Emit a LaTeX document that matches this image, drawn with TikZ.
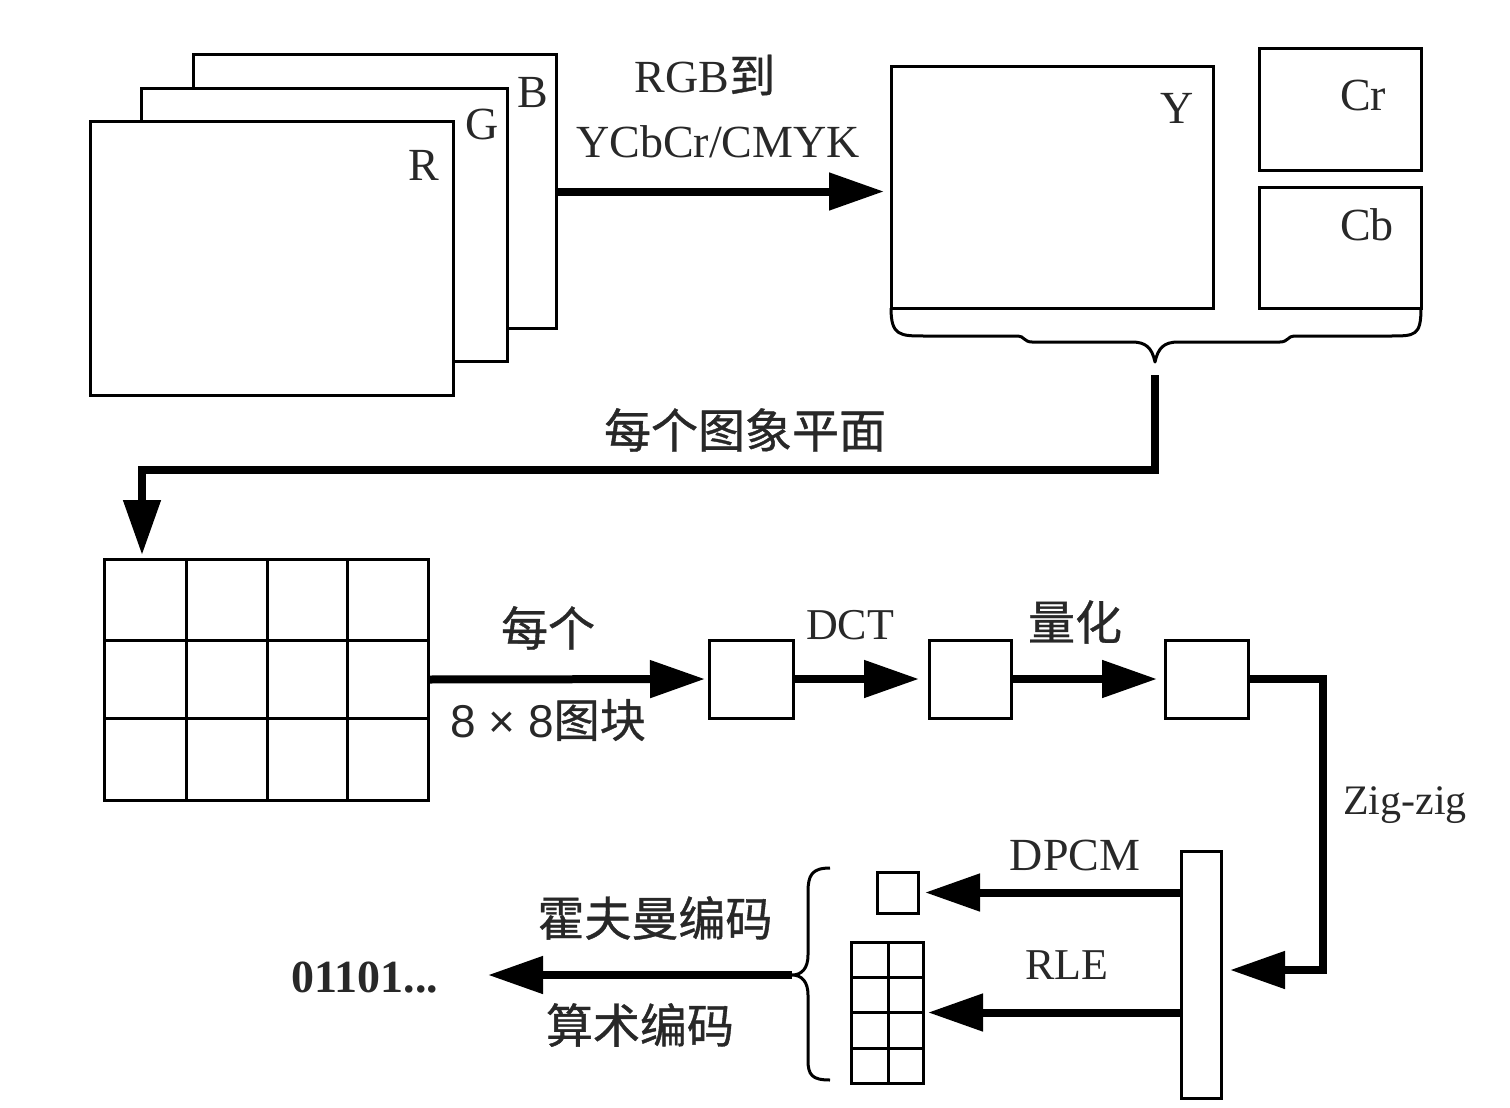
\documentclass[tikz,border=0pt]{standalone}
\usepackage{fontspec}
\setmainfont{Liberation Serif}
\setsansfont{Liberation Sans}
\newfontfamily\cjk[FakeBold=0.8]{Noto Sans CJK SC}
\usetikzlibrary{arrows.meta}
\definecolor{ink}{RGB}{40,40,40}
\tikzset{
  box/.style={draw=black, line width=3pt, fill=white, inner sep=0pt, outer sep=0pt},
  arr/.style={line width=8pt, line join=miter, -{Triangle[length=55pt,width=36pt]}},
  thin/.style={line width=3pt},
  lab/.style={text=ink, inner sep=0pt, font=\fontsize{46}{50}\selectfont},
  slab/.style={text=ink, inner sep=0pt, font=\fontsize{44}{50}\selectfont},
  clab/.style={text=ink, inner sep=0pt, font=\cjk\fontsize{47}{52}\selectfont},
}
\begin{document}
\begin{tikzpicture}[x=1pt,y=-1pt]
\useasboundingbox (0,0) rectangle (1510,1108);
% RGB planes
\node[box, minimum width=363pt, minimum height=273pt] (B) at (374.5,191.5) {};
\node[box, minimum width=366pt, minimum height=273pt] (G) at (324,224.5) {};
\node[box, minimum width=363pt, minimum height=274pt] (R) at (271.5,258) {};
\node[lab] (lB) at (533,93) {B};
\node[lab] (lG) at (482,124) {G};
\node[lab] (lR) at (424,165) {R};
% YCbCr planes
\node[box, minimum width=322pt, minimum height=241pt] (Y) at (1052,187.5) {};
\node[box, minimum width=162pt, minimum height=121pt] (Cr) at (1340,109.5) {};
\node[box, minimum width=162pt, minimum height=121pt] (Cb) at (1340,247.5) {};
\node[lab] (lY) at (1177,108) {Y};
\node[lab] (lCr) at (1363,95) {Cr};
\node[lab] (lCb) at (1367,225) {Cb};
% conversion arrow
\draw[arr, shorten >=7pt] (B.east) -- (B.east -| Y.west);
\node[lab] (t1) at (705,75) {RGB{\cjk 到}};
\node[lab] (t2) at (718,142) {YCbCr/CMYK};
% brace under Y, Cr, Cb
\coordinate (bL) at (891,308);
\coordinate (bR) at (1421,308);
\coordinate (bt) at (1155,362);
\draw[thin, line join=round] (bL) .. controls (891,336) and (900,336) .. (925,336)
  -- (1018,336) .. controls (1024,336) and (1024,342) .. (1032,342)
  -- (1132,342) .. controls (1146,342) and (1152,348) .. (bt)
  .. controls (1158,348) and (1164,342) .. (1178,342)
  -- (1280,342) .. controls (1288,342) and (1288,336) .. (1294,336)
  -- (1390,336) .. controls (1415,336) and (1421,336) .. (bR);
% every plane -> grid
\coordinate (ls) at (1155,375);
\node[box, minimum width=324pt, minimum height=241pt] (grid) at (266,679.5) {};
\foreach \x in {186,267,347} \draw[thin] (\x,559) -- (\x,800);
\foreach \y in {640,718} \draw[thin] (104,\y) -- (428,\y);
\coordinate (gin) at (142,555);
\draw[arr] (ls) -- (1155,470) -| (gin);
\node[clab] (t3) at (745,430) {每个图象平面};
% blocks
\node[box, minimum width=84pt, minimum height=78pt] (b1) at (751,679) {};
\node[box, minimum width=82pt, minimum height=78pt] (b2) at (970,679) {};
\node[box, minimum width=83pt, minimum height=78pt] (b3) at (1206.5,679) {};
\draw[arr, shorten >=4pt] (grid.east) -- (b1.west);
\draw[arr, shorten >=10pt] (b1.east) -- (b2.west);
\draw[arr, shorten >=8pt] (b2.east) -- (b3.west);
\node[clab] (t4) at (548,628) {每个};
\node[text=ink, inner sep=0pt] (t5) at (548,720) {\fontsize{46}{50}\selectfont\sffamily 8 × 8{\cjk 图块}};
\node[slab] (t6) at (850,625) {DCT};
\node[clab] (t7) at (1075,622) {量化};
% zig-zag
\node[box, minimum width=40pt, minimum height=247pt] (bar) at (1201,974.5) {};
\coordinate (zz) at (1323,970);
\draw[arr, shorten >=9pt] (b3.east) -| (zz) -- (bar.east |- zz);
\node[font=\fontsize{42}{48}\selectfont, text=ink, inner sep=0pt] (t8) at (1405,805) {Zig-zig};
% DPCM / RLE
\node[box, minimum width=41pt, minimum height=41pt] (sq) at (897.5,892.5) {};
\node[box, minimum width=72pt, minimum height=141pt] (sg) at (887,1012.5) {};
\draw[thin] (888,942) -- (888,1083);
\foreach \y in {977,1012,1048} \draw[thin] (851,\y) -- (923,\y);
\draw[arr, shorten >=7pt] (sq.east -| bar.west) -- (sq.east);
\draw[arr, shorten >=5pt] (sg.east -| bar.west) -- (sg.east);
\node[font=\fontsize{46}{50}\selectfont, text=ink, inner sep=0pt] (t9) at (1075,855) {DPCM};
\node[slab] (t10) at (1067,965) {RLE};
% left brace
\coordinate (lt) at (830,868);
\coordinate (lb) at (830,1080);
\coordinate (ltip) at (792,975);
\draw[thin, line join=round] (lt) .. controls (812,868) and (808,875) .. (808,892)
  -- (808,955) .. controls (808,968) and (802,975) .. (ltip)
  .. controls (802,975) and (808,982) .. (808,995)
  -- (808,1060) .. controls (808,1075) and (812,1080) .. (lb);
\coordinate (out) at (488,975);
\draw[arr] (ltip) -- (out);
\node[clab] (t11) at (655,918) {霍夫曼编码};
\node[clab] (t12) at (640,1025) {算术编码};
\node[text=ink, inner sep=0pt, font=\bfseries\fontsize{46}{50}\selectfont] (t13) at (365,978) {01101...};
\end{tikzpicture}
\end{document}
